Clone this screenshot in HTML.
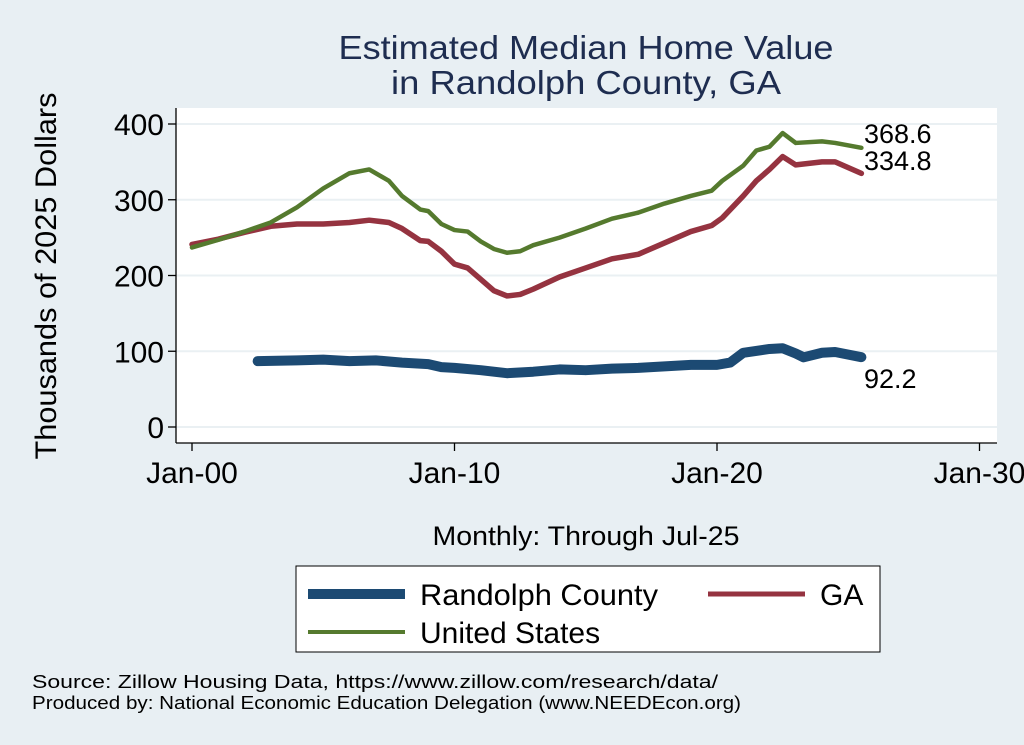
<!DOCTYPE html>
<html><head><meta charset="utf-8"><style>
body{margin:0;background:#e8eff3;}
svg{display:block;font-family:"Liberation Sans",sans-serif;}
</style></head><body>
<svg width="1024" height="745">
<rect width="1024" height="745" fill="#e8eff3"/>
<text x="586" y="59" font-size="33" fill="#1e2d50" text-anchor="middle" textLength="495" lengthAdjust="spacingAndGlyphs">Estimated Median Home Value</text>
<text x="586" y="94" font-size="33" fill="#1e2d50" text-anchor="middle" textLength="390" lengthAdjust="spacingAndGlyphs">in Randolph County, GA</text>
<rect x="176" y="108" width="821" height="335" fill="#fff"/>
<g id="grid"></g><g id="axes"></g><g id="series"></g>
<text transform="translate(56,276) rotate(-90)" font-size="30" text-anchor="middle" textLength="367" lengthAdjust="spacingAndGlyphs" fill="#000">Thousands of 2025 Dollars</text>
<text x="586" y="545" font-size="27" text-anchor="middle" textLength="307" lengthAdjust="spacingAndGlyphs" fill="#000">Monthly: Through Jul-25</text>
<g>
<rect x="296" y="566" width="584" height="86" fill="#fff" stroke="#000" stroke-width="1"/>
<line x1="308" y1="594" x2="405" y2="594" stroke="#1c4a73" stroke-width="10"/>
<text x="420" y="605" font-size="30" textLength="238" lengthAdjust="spacingAndGlyphs">Randolph County</text>
<line x1="708" y1="594" x2="805" y2="594" stroke="#953340" stroke-width="5"/>
<text x="820" y="605" font-size="30">GA</text>
<line x1="308" y1="632" x2="405" y2="632" stroke="#557a2e" stroke-width="4"/>
<text x="420" y="643" font-size="30">United States</text>
</g>
<text x="32" y="688" font-size="18" textLength="686" lengthAdjust="spacingAndGlyphs">Source: Zillow Housing Data, https://www.zillow.com/research/data/</text>
<text x="32" y="709" font-size="18" textLength="709" lengthAdjust="spacingAndGlyphs">Produced by: National Economic Education Delegation (www.NEEDEcon.org)</text>
</svg>
<script>
const yTicks=[0,100,200,300,400];
const xTicks=[2000,2010,2020,2030];
const xTickLabels=["Jan-00","Jan-10","Jan-20","Jan-30"];
const usX=[2000,2001,2002,2003,2004,2005,2006,2006.75,2007.5,2008,2008.7,2009,2009.5,2010,2010.5,2011,2011.5,2012,2012.5,2013,2014,2015,2016,2017,2018,2019,2019.8,2020.2,2021,2021.5,2022,2022.5,2023,2024,2024.5,2025.5];
const usY=[237,247,258,270,290,315,335,340,325,305,287,285,268,260,258,245,235,230,232,240,250,262,275,283,295,305,312,325,345,365,370,388,375,377,375,368.6];
const gaX=usX;
const gaY=[241,248,257,265,268,268,270,273,270,262,246,245,232,215,210,195,180,173,175,182,198,210,222,228,243,258,266,276,305,325,340,357,346,350,350,334.8];
const rcX=[2002.5,2004,2005,2006,2007,2008,2009,2009.5,2010,2011,2012,2013,2014,2015,2016,2017,2018,2019,2020,2020.5,2021,2022,2022.5,2023,2023.3,2024,2024.5,2025.5];
const rcY=[87,88,89,87,88,85,83,79,78,75,71,73,76,75,77,78,80,82,82,85,98,103,104,97,92,98,99,92.2];
const NS="http://www.w3.org/2000/svg";
const xs=v=>192+(v-2000)*26.25;
const ys=v=>427-v*0.7575;
function mk(t,a,p){const e=document.createElementNS(NS,t);for(const k in a)e.setAttribute(k,a[k]);p.appendChild(e);return e;}
const grid=document.getElementById('grid'),axes=document.getElementById('axes'),ser=document.getElementById('series');
yTicks.forEach(v=>{
 const g=mk('line',{x1:176,x2:997,y1:ys(v),y2:ys(v),stroke:'#eaf0f3','stroke-width':2},grid);
 
 
 mk('line',{x1:168,x2:176,y1:ys(v),y2:ys(v),stroke:'#000','stroke-width':1.3},axes);
 const t=mk('text',{x:164,y:ys(v)+11,'font-size':30,'text-anchor':'end'},axes);t.textContent=v;
 
 
});
mk('line',{x1:176,x2:176,y1:108,y2:443,stroke:'#000','stroke-width':1.3},axes);
mk('line',{x1:176,x2:997,y1:443,y2:443,stroke:'#000','stroke-width':1.3},axes);
xTicks.forEach((v,i)=>{
 mk('line',{x1:xs(v),x2:xs(v),y1:443,y2:451,stroke:'#000','stroke-width':1.3},axes);
 const t=mk('text',{x:xs(v),y:483,'font-size':30,'text-anchor':'middle'},axes);t.textContent=xTickLabels[i];
 
 
});
function line(X,Y,c,w,name){
 const p=mk('polyline',{points:X.map((x,i)=>xs(x)+','+ys(Y[i])).join(' '),fill:'none',stroke:c,'stroke-width':w,'stroke-linejoin':'round','stroke-linecap':'round'},ser);
 
 
}
line(rcX,rcY,'#1c4a73',10,'line-randolph');
line(gaX,gaY,'#953340',5.5,'line-ga');
line(usX,usY,'#557a2e',4.5,'line-us');
function lab(x,y,s,name){const t=mk('text',{x:x,y:y,'font-size':27},ser);t.textContent=s;
 
 }
lab(864,143,usY[usY.length-1].toFixed(1),'label-us-last');
lab(864,170,gaY[gaY.length-1].toFixed(1),'label-ga-last');
lab(864,388,rcY[rcY.length-1].toFixed(1),'label-randolph-last');
</script>
</body></html>
